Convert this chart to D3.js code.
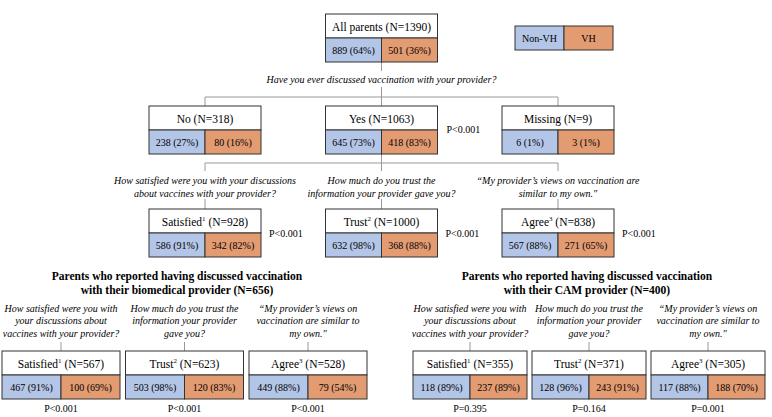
<!DOCTYPE html>
<html><head><meta charset="utf-8">
<script src="https://cdn.jsdelivr.net/npm/d3@7"></script>
<style>body{margin:0;background:#fff}svg{display:block}</style>
</head><body>
<svg id="c" width="772" height="417"></svg>
<script>
// ---- data ----
const legendLabels = ["Non-VH", "VH"];
const rootLabel = "All parents"; const rootN = 1390;
const rootNonVH = [889, 64]; const rootVH = [501, 36];
const q1 = "Have you ever discussed vaccination with your provider?";
const l1Labels = ["No", "Yes", "Missing"];
const l1N = [318, 1063, 9];
const l1NonVH = [238, 645, 6]; const l1NonVHPct = [27, 73, 1];
const l1VH = [80, 418, 3]; const l1VHPct = [16, 83, 1];
const l1P = ["", "P<0.001", ""];
const outLabels = ["Satisfied", "Trust", "Agree"];
const outSup = ["1", "2", "3"];
const q2 = [["How satisfied were you with your discussions", "about vaccines with your provider?"],
            ["How much do you trust the", "information your provider gave you?"],
            ["\u201cMy provider\u2019s views on vaccination are", "similar to my own.\""]];
const l2N = [928, 1000, 838];
const l2NonVH = [586, 632, 567]; const l2NonVHPct = [91, 98, 88];
const l2VH = [342, 368, 271]; const l2VHPct = [82, 88, 65];
const l2P = ["P<0.001", "P<0.001", "P<0.001"];
const q3 = [["How satisfied were you with", "your discussions about", "vaccines with your provider?"],
            ["How much do you trust the", "information your provider", "gave you?"],
            ["\u201cMy provider\u2019s views on", "vaccination are similar to", "my own.\""]];
const bioTitle = ["Parents who reported having discussed vaccination", "with their biomedical provider (N=656)"];
const bioN = [567, 623, 528];
const bioNonVH = [467, 503, 449]; const bioNonVHPct = [91, 98, 88];
const bioVH = [100, 120, 79]; const bioVHPct = [69, 83, 54];
const bioP = ["P<0.001", "P<0.001", "P<0.001"];
const camTitle = ["Parents who reported having discussed vaccination", "with their CAM provider (N=400)"];
const camN = [355, 371, 305];
const camNonVH = [118, 128, 117]; const camNonVHPct = [89, 96, 88];
const camVH = [237, 243, 188]; const camVHPct = [89, 91, 70];
const camP = ["P=0.395", "P=0.164", "P=0.001"];

// ---- style ----
const BLUE = "#b4c6e7", ORANGE = "#e39b72", BORDER = "#333", LINE = "#999";
const FONT = "'Liberation Serif','Times New Roman',serif";
const svg = d3.select("#c");
const gLines = svg.append("g");
const gBoxes = svg.append("g");

function vline(x, y1, y2) { gLines.append("line").attr("x1", x).attr("x2", x).attr("y1", y1).attr("y2", y2).attr("stroke", LINE).attr("stroke-width", 1); }
function hline(x1, x2, y) { gLines.append("line").attr("x1", x1).attr("x2", x2).attr("y1", y).attr("y2", y).attr("stroke", LINE).attr("stroke-width", 1); }

function text(x, y, str, opts = {}) {
  return svg.append("text").attr("x", x).attr("y", y).attr("text-anchor", opts.anchor || "middle")
    .attr("dominant-baseline", "central").attr("font-family", FONT)
    .attr("font-size", opts.size || 10).attr("font-style", opts.italic ? "italic" : "normal")
    .attr("font-weight", opts.bold ? "bold" : "normal").attr("fill", "#000").text(str);
}
function multiline(x, yCenter0, lines, lh, opts) {
  lines.forEach((l, i) => text(x, yCenter0 + i * lh, l, opts));
}

function node(cx, y, w, label, sup, n, a, ap, b, bp, th = 24, dh = 24, tsize = 11.5) {
  const x0 = cx - w / 2;
  gBoxes.append("rect").attr("x", x0).attr("y", y).attr("width", w).attr("height", th).attr("fill", "#fff").attr("stroke", BORDER);
  gBoxes.append("rect").attr("x", x0).attr("y", y + th).attr("width", w / 2).attr("height", dh).attr("fill", BLUE).attr("stroke", BORDER);
  gBoxes.append("rect").attr("x", cx).attr("y", y + th).attr("width", w / 2).attr("height", dh).attr("fill", ORANGE).attr("stroke", BORDER);
  const t = svg.append("text").attr("x", cx).attr("y", y + th / 2 + 1).attr("text-anchor", "middle")
    .attr("dominant-baseline", "central").attr("font-family", FONT).attr("font-size", tsize).attr("fill", "#000");
  t.append("tspan").text(label);
  if (sup) t.append("tspan").attr("font-size", tsize * 0.6).attr("dy", -4).text(sup);
  t.append("tspan").attr("dy", sup ? 4 : 0).text(" (N=" + n + ")");
  text(cx - w / 4, y + th + dh / 2 + 0.5, a + " (" + ap + "%)", { size: 10 });
  text(cx + w / 4, y + th + dh / 2 + 0.5, b + " (" + bp + "%)", { size: 10 });
}

// ---- scales ----
const xTop = d3.scalePoint().domain(l1Labels).range([205, 558]);
const xBio = d3.scalePoint().domain(outLabels).range([61, 308]);
const xCam = d3.scalePoint().domain(outLabels).range([470, 708]);
const yLev = d3.scaleOrdinal().domain(["root", "l1", "l2", "bottom"]).range([14, 106, 209, 351]);

// ---- legend ----
gBoxes.append("rect").attr("x", 515).attr("y", 26).attr("width", 49).attr("height", 24).attr("fill", BLUE).attr("stroke", BORDER);
gBoxes.append("rect").attr("x", 564).attr("y", 26).attr("width", 49).attr("height", 24).attr("fill", ORANGE).attr("stroke", BORDER);
text(539.5, 38.5, legendLabels[0], { size: 10 });
text(588.5, 38.5, legendLabels[1], { size: 10 });

// ---- root ----
const cxRoot = xTop("Yes");
node(cxRoot, yLev("root"), 112, rootLabel, "", rootN, rootNonVH[0], rootNonVH[1], rootVH[0], rootVH[1]);
vline(cxRoot, 62, 71);
text(cxRoot, 79.5, q1, { italic: true, size: 10 });
vline(cxRoot, 87, 97);
hline(xTop("No"), xTop("Missing"), 97);

// ---- level 1 ----
l1Labels.forEach((lab, i) => {
  const cx = xTop(lab);
  vline(cx, 97, yLev("l1"));
  node(cx, yLev("l1"), 112, lab, "", l1N[i], l1NonVH[i], l1NonVHPct[i], l1VH[i], l1VHPct[i]);
  if (l1P[i]) text(cx + 65, yLev("l1") + 23, l1P[i], { anchor: "start", size: 10 });
});

// ---- level 2 ----
vline(cxRoot, 154, 163);
hline(xTop("No"), xTop("Missing"), 163);
outLabels.forEach((lab, i) => {
  const cx = xTop(l1Labels[i]);
  vline(cx, 163, 171);
  multiline(cx, 180, q2[i], 13, { italic: true, size: 10 });
  vline(cx, 199, yLev("l2"));
  node(cx, yLev("l2"), 112, lab, outSup[i], l2N[i], l2NonVH[i], l2NonVHPct[i], l2VH[i], l2VHPct[i]);
  text(cx + 64, yLev("l2") + 24, l2P[i], { anchor: "start", size: 10 });
});

// ---- bottom panels ----
function panel(xs, w, title, titleX, N, a, ap, b, bp, P) {
  title.forEach((t, i) => text(titleX, 276 + i * 14, t, { bold: true, size: 11.5 }));
  outLabels.forEach((lab, i) => {
    const cx = xs(lab);
    multiline(cx, 308, q3[i], 12.5, { italic: true, size: 10 });
    vline(cx, 342, yLev("bottom"));
    node(cx, yLev("bottom"), w, lab, outSup[i], N[i], a[i], ap[i], b[i], bp[i]);
    text(cx, 408.5, P[i], { size: 10 });
  });
}
panel(xBio, 118, bioTitle, 177, bioN, bioNonVH, bioNonVHPct, bioVH, bioVHPct, bioP);
panel(xCam, 114, camTitle, 587, camN, camNonVH, camNonVHPct, camVH, camVHPct, camP);
</script>
</body></html>
